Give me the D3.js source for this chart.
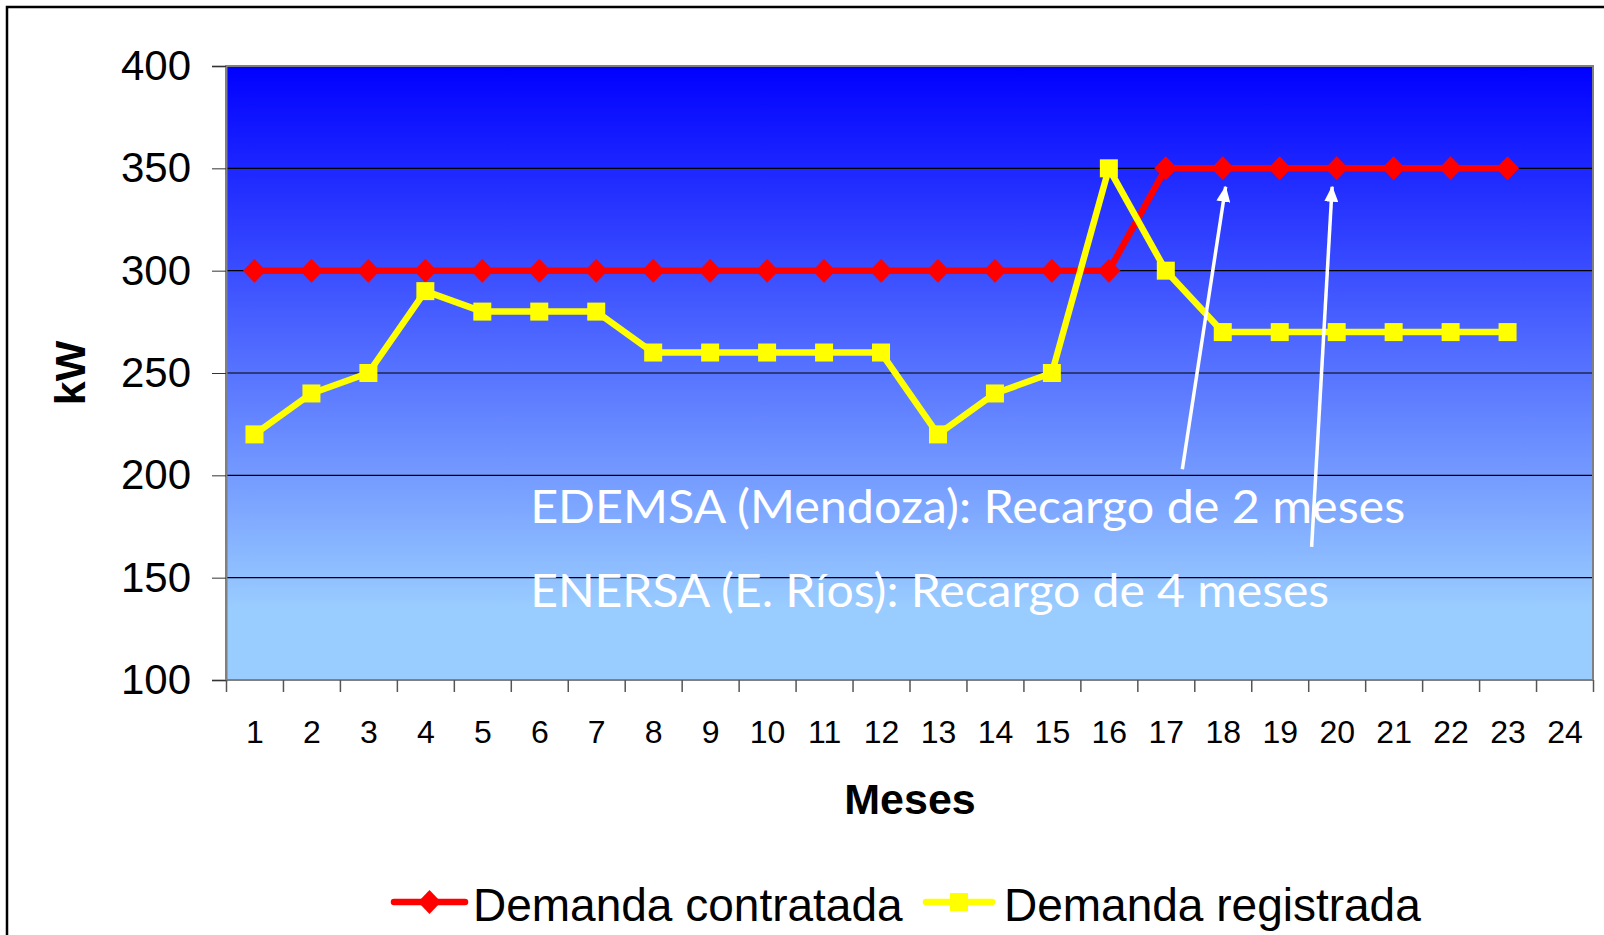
<!DOCTYPE html>
<html>
<head>
<meta charset="utf-8">
<script src="https://cdn.jsdelivr.net/npm/d3@7"></script>
<style>
  body { margin: 0; background: #fff; }
  svg text { font-family: "Liberation Sans", Arial, sans-serif; }
</style>
</head>
<body>
<div id="chart"></div>
<script>
// data
const monthLabels = ["1","2","3","4","5","6","7","8","9","10","11","12",
  "13","14","15","16","17","18","19","20","21","22","23","24"];
const contratada = [300,300,300,300,300,300,300,300,300,300,300,300,300,300,300,300,
  350,350,350,350,350,350,350];
const registrada = [220,240,250,290,280,280,280,260,260,260,260,260,220,240,250,350,
  300,270,270,270,270,270,270];
const yTicks = [100,150,200,250,300,350,400];
const seriesNames = ["Demanda contratada", "Demanda registrada"];
const notes = ["EDEMSA (Mendoza): Recargo de 2 meses", "ENERSA (E. Ríos): Recargo de 4 meses"];
// arrows in data units: [month, kW] tail -> tip
const arrows = [
  {from: [17.29, 203], to: [18.05, 341]},
  {from: [19.56, 165], to: [19.92, 341]}
];

const svgWidth = 1604;
const svgHeight = 935;
const plot = {left: 226, top: 66, right: 1593, bottom: 680};

const svg = d3.select("#chart")
    .append("svg")
    .attr("width", svgWidth)
    .attr("height", svgHeight);

// outer frame (right / bottom edges fall outside the picture)
svg.append("rect")
    .attr("x", 7).attr("y", 7)
    .attr("width", 1620).attr("height", 960)
    .attr("fill", "none")
    .attr("stroke", "#000")
    .attr("stroke-width", 2.5);

const x = d3.scaleLinear()
    .domain([0.5, monthLabels.length + 0.5])
    .range([plot.left, plot.right]);

const y = d3.scaleLinear()
    .domain([100, 400])
    .range([plot.bottom, plot.top]);

// plot background gradient
const defs = svg.append("defs");
const grad = defs.append("linearGradient")
    .attr("id", "bg")
    .attr("x1", 0).attr("y1", 0).attr("x2", 0).attr("y2", 1);
grad.append("stop").attr("offset", "0%").attr("stop-color", "#0000ff");
grad.append("stop").attr("offset", "88%").attr("stop-color", "#99ccff");

defs.append("marker")
    .attr("id", "arrowhead")
    .attr("viewBox", "0 0 16 14")
    .attr("refX", 15).attr("refY", 7)
    .attr("markerWidth", 16).attr("markerHeight", 14)
    .attr("markerUnits", "userSpaceOnUse")
    .attr("orient", "auto")
    .append("path")
    .attr("d", "M0,0 L16,7 L0,14 Z")
    .attr("fill", "#fff");

svg.append("rect")
    .attr("x", plot.left).attr("y", plot.top)
    .attr("width", plot.right - plot.left)
    .attr("height", plot.bottom - plot.top)
    .attr("fill", "url(#bg)");

// gridlines
svg.append("g")
    .selectAll("line")
    .data(yTicks.slice(1, -1))
    .enter()
    .append("line")
    .attr("x1", plot.left).attr("x2", plot.right)
    .attr("y1", d => y(d)).attr("y2", d => y(d))
    .attr("stroke", "#000")
    .attr("stroke-width", 1.2);

svg.append("rect")
    .attr("x", plot.left).attr("y", plot.top)
    .attr("width", plot.right - plot.left)
    .attr("height", plot.bottom - plot.top)
    .attr("fill", "none")
    .attr("stroke", "#808080")
    .attr("stroke-width", 2);

// y axis
const leftAxis = d3.axisLeft(y).tickValues(yTicks).tickSize(14).tickPadding(21);
const gy = svg.append("g")
    .attr("transform", `translate(${plot.left}, 0)`)
    .call(leftAxis);
gy.select(".domain").attr("stroke", "#808080").attr("stroke-width", 2);
gy.selectAll(".tick line").attr("stroke", "#333");
gy.selectAll("text").style("font-size", "42px").attr("fill", "#000");

// x axis: boundary ticks + centered labels
const boundaries = d3.range(0, monthLabels.length + 1).map(i => i + 0.5);
const gxTicks = svg.append("g")
    .attr("transform", `translate(0, ${plot.bottom})`)
    .call(d3.axisBottom(x).tickValues(boundaries).tickSize(12).tickFormat(""));
gxTicks.select(".domain").remove();
gxTicks.selectAll(".tick line").attr("stroke", "#555").attr("stroke-width", 1.5);

const gxLabels = svg.append("g")
    .attr("transform", `translate(0, ${plot.bottom})`)
    .call(d3.axisBottom(x)
        .tickValues(monthLabels.map((d, i) => i + 1))
        .tickFormat(i => monthLabels[i - 1])
        .tickSize(0)
        .tickPadding(40));
gxLabels.select(".domain").remove();
gxLabels.selectAll("text").style("font-size", "32px").attr("fill", "#000");

// axis titles
svg.append("text")
    .attr("transform", `translate(85, ${(y(400) + y(100)) / 2}) rotate(-90)`)
    .attr("text-anchor", "middle")
    .style("font-size", "43px")
    .style("font-weight", "bold")
    .text("kW");

svg.append("text")
    .attr("x", 910)
    .attr("y", 814)
    .attr("text-anchor", "middle")
    .style("font-size", "43px")
    .style("font-weight", "bold")
    .text("Meses");

// lines
const line = d3.line()
    .x((d, i) => x(i + 1))
    .y(d => y(d));

svg.append("path")
    .datum(contratada)
    .attr("d", line)
    .attr("fill", "none")
    .attr("stroke", "#ff0000")
    .attr("stroke-width", 6.5)
    .attr("stroke-linejoin", "round");

svg.append("g")
    .selectAll("path")
    .data(contratada)
    .enter()
    .append("path")
    .attr("d", "M0,-12 L11.5,0 L0,12 L-11.5,0 Z")
    .attr("transform", (d, i) => `translate(${x(i + 1)}, ${y(d)})`)
    .attr("fill", "#ff0000");

svg.append("path")
    .datum(registrada)
    .attr("d", line)
    .attr("fill", "none")
    .attr("stroke", "#ffff00")
    .attr("stroke-width", 6.5)
    .attr("stroke-linejoin", "round");

svg.append("g")
    .selectAll("rect")
    .data(registrada)
    .enter()
    .append("rect")
    .attr("x", (d, i) => x(i + 1) - 9)
    .attr("y", d => y(d) - 9)
    .attr("width", 18)
    .attr("height", 18)
    .attr("fill", "#ffff00");

// annotations
svg.append("g")
    .selectAll("line")
    .data(arrows)
    .enter()
    .append("line")
    .attr("x1", d => x(d.from[0])).attr("y1", d => y(d.from[1]))
    .attr("x2", d => x(d.to[0])).attr("y2", d => y(d.to[1]))
    .attr("stroke", "#fff")
    .attr("stroke-width", 3.5)
    .attr("marker-end", "url(#arrowhead)");

const noteY = [176.6, 135.6];
const noteW = [875, 799];
svg.append("g")
    .selectAll("text")
    .data(notes)
    .enter()
    .append("text")
    .attr("x", x(5.84))
    .attr("y", (d, i) => y(noteY[i]))
    .attr("textLength", (d, i) => noteW[i])
    .attr("lengthAdjust", "spacingAndGlyphs")
    .style("font-family", "Lato, 'Open Sans', sans-serif")
    .style("font-size", "46px")
    .attr("fill", "#fff")
    .text(d => d);

// legend
const legend = [
  {name: seriesNames[0], color: "#ff0000", x1: 394, x2: 465, text: 473, shape: "diamond"},
  {name: seriesNames[1], color: "#ffff00", x1: 926, x2: 992, text: 1004, shape: "square"}
];
const ly = 902;
legend.forEach(function (d) {
    svg.append("line")
        .attr("x1", d.x1).attr("x2", d.x2)
        .attr("y1", ly).attr("y2", ly)
        .attr("stroke", d.color)
        .attr("stroke-width", 6.5)
        .attr("stroke-linecap", "round");
    const cx = (d.x1 + d.x2) / 2;
    if (d.shape === "diamond") {
        svg.append("path")
            .attr("d", "M0,-12 L11.5,0 L0,12 L-11.5,0 Z")
            .attr("transform", `translate(${cx}, ${ly})`)
            .attr("fill", d.color);
    } else {
        svg.append("rect")
            .attr("x", cx - 9).attr("y", ly - 9)
            .attr("width", 18).attr("height", 18)
            .attr("fill", d.color);
    }
    svg.append("text")
        .attr("x", d.text)
        .attr("y", 921)
        .style("font-size", "46px")
        .text(d.name);
});
</script>
</body>
</html>
